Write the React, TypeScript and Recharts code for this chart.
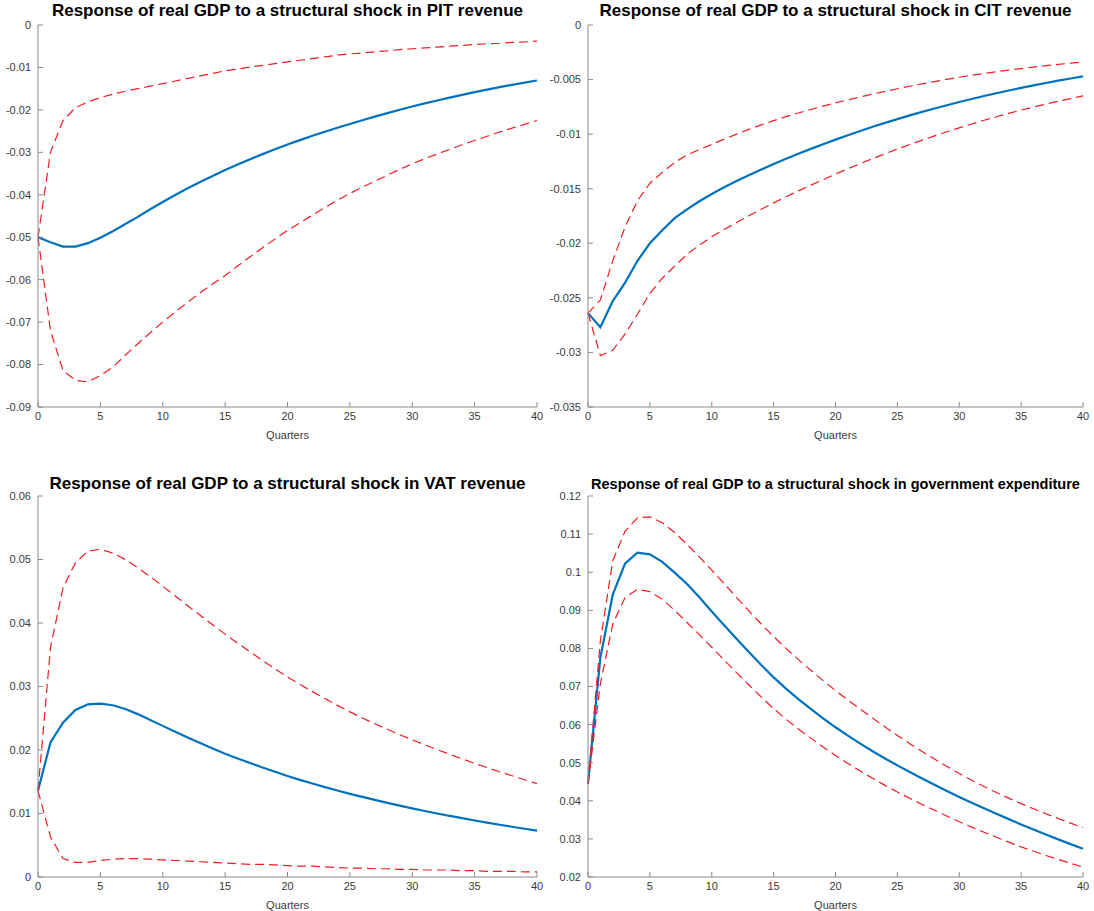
import { LineChart, Line, XAxis, YAxis, Label } from 'recharts';

// impulse responses over 40 quarters, with 68% error bands
const quarters = [
  0, 1, 2, 3, 4, 5, 6, 7, 8, 9, 10, 11, 12, 13, 14, 15, 16, 17, 18, 19, 20,
  21, 22, 23, 24, 25, 26, 27, 28, 29, 30, 31, 32, 33, 34, 35, 36, 37, 38, 39, 40,
];
const xTicks = [0, 5, 10, 15, 20, 25, 30, 35, 40];

const pitIrf = [
  -0.05, -0.0512, -0.0522, -0.0522, -0.0514, -0.0501, -0.0486, -0.0469, -0.0452, -0.0434, -0.0417,
  -0.04005, -0.03848, -0.03698, -0.03555, -0.03418, -0.03287, -0.03162, -0.03042, -0.02927, -0.02817,
  -0.02712, -0.02611, -0.02514, -0.02421, -0.02332, -0.02245, -0.0216, -0.02077, -0.01997, -0.0192,
  -0.01848, -0.01778, -0.0171, -0.01645, -0.01582, -0.01522, -0.01465, -0.0141, -0.01358, -0.01308,
];
const pitUpper = [
  -0.05, -0.03, -0.0225, -0.0195, -0.0181, -0.0171, -0.0163, -0.0156, -0.015, -0.0144, -0.0138,
  -0.0132, -0.0126, -0.012, -0.0114, -0.0108, -0.0104, -0.0099, -0.0095, -0.0091, -0.0087,
  -0.0083, -0.0079, -0.0075, -0.0071, -0.0068, -0.0066, -0.0063, -0.0061, -0.0058, -0.0056,
  -0.0054, -0.0052, -0.005, -0.0048, -0.0046, -0.0044, -0.0043, -0.0041, -0.004, -0.0038,
];
const pitLower = [
  -0.05, -0.072, -0.0814, -0.0837, -0.0841, -0.0826, -0.0806, -0.0778, -0.0751, -0.0725, -0.07,
  -0.0676, -0.0653, -0.0631, -0.061, -0.059, -0.0568, -0.0546, -0.0525, -0.0504, -0.0484,
  -0.0466, -0.0448, -0.043, -0.0413, -0.0397, -0.0382, -0.0368, -0.0354, -0.034, -0.0327,
  -0.0315, -0.0304, -0.0293, -0.0282, -0.0272, -0.0262, -0.0252, -0.0243, -0.0234, -0.0225,
];

const citIrf = [
  -0.0264, -0.0277, -0.0253, -0.0236, -0.0216, -0.02, -0.0188, -0.0177, -0.0169, -0.01615, -0.01548,
  -0.01487, -0.0143, -0.01376, -0.01324, -0.01274, -0.01226, -0.0118, -0.01135, -0.01092, -0.0105,
  -0.0101, -0.00971, -0.00933, -0.00897, -0.00862, -0.00828, -0.00796, -0.00765, -0.00735, -0.00706,
  -0.00678, -0.00651, -0.00625, -0.006, -0.00576, -0.00553, -0.00531, -0.0051, -0.0049, -0.00471,
];
const citUpper = [
  -0.0264, -0.0252, -0.0216, -0.0185, -0.0161, -0.0145, -0.0135, -0.0126, -0.0119, -0.01142, -0.01095,
  -0.01046, -0.01, -0.00956, -0.00915, -0.00876, -0.0084, -0.00806, -0.00774, -0.00743, -0.00714,
  -0.00686, -0.00659, -0.00633, -0.00608, -0.00584, -0.00561, -0.00539, -0.00518, -0.00498, -0.00479,
  -0.00461, -0.00444, -0.00428, -0.00413, -0.00399, -0.00386, -0.00373, -0.00361, -0.0035, -0.00339,
];
const citLower = [
  -0.0264, -0.0303, -0.0298, -0.0283, -0.0265, -0.0246, -0.0232, -0.0221, -0.021, -0.02017, -0.0194,
  -0.01874, -0.0181, -0.01748, -0.01688, -0.0163, -0.01574, -0.0152, -0.01468, -0.01418, -0.01365,
  -0.01317, -0.0127, -0.01224, -0.0118, -0.01137, -0.01095, -0.01055, -0.01016, -0.00978, -0.00942,
  -0.00907, -0.00873, -0.00841, -0.0081, -0.0078, -0.00752, -0.00725, -0.00699, -0.00674, -0.0065,
];

const vatIrf = [
  0.0136, 0.0212, 0.0243, 0.0263, 0.0272, 0.0273, 0.02705, 0.02645, 0.02565, 0.02474, 0.0238,
  0.02288, 0.02198, 0.0211, 0.02024, 0.0194, 0.01866, 0.01795, 0.01725, 0.01657, 0.0159,
  0.0153, 0.01472, 0.01416, 0.01362, 0.0131, 0.01261, 0.01214, 0.01168, 0.01123, 0.0108,
  0.01039, 0.01, 0.00962, 0.00926, 0.0089, 0.00856, 0.00823, 0.00791, 0.0076, 0.0073,
];
const vatUpper = [
  0.0136, 0.0361, 0.0455, 0.0495, 0.0513, 0.0516, 0.051, 0.05, 0.0487, 0.0473, 0.0458,
  0.04425, 0.04272, 0.04121, 0.03972, 0.03825, 0.03683, 0.03545, 0.0341, 0.03278, 0.0315,
  0.03032, 0.02919, 0.0281, 0.02703, 0.026, 0.02504, 0.02413, 0.02326, 0.02241, 0.0216,
  0.02081, 0.02005, 0.01932, 0.0186, 0.0179, 0.01723, 0.01658, 0.01594, 0.01531, 0.0147,
];
const vatLower = [
  0.0136, 0.0063, 0.0029, 0.0023, 0.0023, 0.0026, 0.0028, 0.0029, 0.0029, 0.0028, 0.0027,
  0.0026, 0.0025, 0.0024, 0.0023, 0.0022, 0.0021, 0.002, 0.002, 0.0019, 0.0018,
  0.0017, 0.0017, 0.0016, 0.0015, 0.0014, 0.0014, 0.0013, 0.0013, 0.0012, 0.0012,
  0.0011, 0.0011, 0.0011, 0.001, 0.001, 0.0009, 0.0009, 0.0009, 0.0008, 0.0008,
];

const govIrf = [
  0.0445, 0.0776, 0.0941, 0.1023, 0.1051, 0.1047, 0.1027, 0.0999, 0.0969, 0.0934, 0.0897,
  0.0861, 0.08255, 0.07905, 0.07565, 0.0724, 0.06945, 0.0667, 0.0641, 0.06165, 0.0593,
  0.0571, 0.055, 0.053, 0.0511, 0.0493, 0.04755, 0.04585, 0.0442, 0.0426, 0.041,
  0.0395, 0.03804, 0.0366, 0.03519, 0.0338, 0.03246, 0.03116, 0.02988, 0.02863, 0.0274,
];
const govUpper = [
  0.0445, 0.082, 0.103, 0.1108, 0.1143, 0.1145, 0.113, 0.1104, 0.1073, 0.104, 0.10055,
  0.097, 0.0934, 0.08985, 0.0864, 0.0831, 0.08, 0.07705, 0.07425, 0.07155, 0.06895,
  0.06645, 0.06405, 0.0617, 0.0594, 0.05715, 0.055, 0.05295, 0.05095, 0.049, 0.04715,
  0.0454, 0.04375, 0.0422, 0.0407, 0.03925, 0.0379, 0.0366, 0.03535, 0.03413, 0.03295,
];
const govLower = [
  0.0445, 0.0707, 0.0864, 0.0934, 0.0955, 0.0949, 0.0929, 0.09, 0.0868, 0.0836, 0.0803,
  0.07695, 0.07365, 0.0704, 0.06725, 0.0642, 0.0614, 0.05885, 0.05645, 0.05415, 0.0519,
  0.0498, 0.0478, 0.0459, 0.04405, 0.0423, 0.04065, 0.03905, 0.0375, 0.036, 0.0345,
  0.0331, 0.03175, 0.03045, 0.02915, 0.0279, 0.02675, 0.02565, 0.0246, 0.02358, 0.0226,
];

const pitTicks = [-0.09, -0.08, -0.07, -0.06, -0.05, -0.04, -0.03, -0.02, -0.01, 0];
const citTicks = [-0.035, -0.03, -0.025, -0.02, -0.015, -0.01, -0.005, 0];
const vatTicks = [0, 0.01, 0.02, 0.03, 0.04, 0.05, 0.06];
const govTicks = [0.02, 0.03, 0.04, 0.05, 0.06, 0.07, 0.08, 0.09, 0.1, 0.11, 0.12];

const AXIS = '#8a8a8a';
const TEXT = '#3a3a3a';
const BLUE = '#0072bd';
const RED = '#f01c24';

interface PanelProps {
  title: string;
  titleSize: number;
  titleShift: number;
  irf: number[];
  upper: number[];
  lower: number[];
  yTicks: number[];
  left: number;
  top: number;
  width: number;
  plotHeight: number;
  axisWidth: number;
}

function IrfPanel({
  title, titleSize, titleShift, irf, upper, lower, yTicks, left, top, width, plotHeight, axisWidth,
}: PanelProps) {
  const data = quarters.map((q, i) => ({ q, irf: irf[i], hi: upper[i], lo: lower[i] }));
  const marginTop = 24;
  const plotLeft = left + axisWidth;
  const plotRight = left + width - 8;
  const center = (plotLeft + plotRight) / 2;

  return (
    <>
      <div
        style={{
          position: 'absolute',
          left: center - 300,
          width: 600,
          top: top + titleShift + (17 - titleSize) * 0.5,
          textAlign: 'center',
          fontWeight: 'bold',
          fontSize: titleSize,
          lineHeight: `${titleSize + 2}px`,
          color: '#000',
          whiteSpace: 'nowrap',
        }}
      >
        {title}
      </div>
      <div style={{ position: 'absolute', left, top }}>
        <LineChart
          width={width}
          height={marginTop + plotHeight + 38}
          data={data}
          margin={{ top: marginTop, right: 8, bottom: 0, left: 0 }}
        >
          <XAxis
            type="number"
            dataKey="q"
            domain={[0, 40]}
            ticks={xTicks}
            height={38}
            tickSize={-5}
            tickMargin={10}
            stroke={AXIS}
            tick={{ fill: TEXT, fontSize: 11 }}
          >
            <Label value="Quarters" position="insideBottom" offset={6} fill={TEXT} fontSize={11} />
          </XAxis>
          <YAxis
            type="number"
            domain={[yTicks[0], yTicks[yTicks.length - 1]]}
            ticks={yTicks}
            allowDataOverflow
            width={axisWidth}
            tickSize={-5}
            tickMargin={12}
            stroke={AXIS}
            tick={{ fill: TEXT, fontSize: 11 }}
            interval={0}
          />
          <Line type="linear" dataKey="irf" stroke={BLUE} strokeWidth={2.2} dot={false} isAnimationActive={false} />
          <Line
            type="linear"
            dataKey="hi"
            stroke={RED}
            strokeWidth={1.2}
            strokeDasharray="9 5"
            dot={false}
            isAnimationActive={false}
          />
          <Line
            type="linear"
            dataKey="lo"
            stroke={RED}
            strokeWidth={1.2}
            strokeDasharray="9 5"
            dot={false}
            isAnimationActive={false}
          />
        </LineChart>
      </div>
    </>
  );
}

export default function App() {
  return (
    <div
      style={{
        position: 'absolute',
        left: 0,
        top: 0,
        width: 1094,
        height: 911,
        background: '#fff',
        fontFamily: '"Liberation Sans", Arial, Helvetica, sans-serif',
      }}
    >
      <IrfPanel
        title="Response of real GDP to a structural shock in PIT revenue"
        titleSize={17}
        titleShift={0}
        irf={pitIrf}
        upper={pitUpper}
        lower={pitLower}
        yTicks={pitTicks}
        left={0}
        top={1}
        width={545}
        plotHeight={382}
        axisWidth={38}
      />
      <IrfPanel
        title="Response of real GDP to a structural shock in CIT revenue"
        titleSize={17}
        titleShift={0}
        irf={citIrf}
        upper={citUpper}
        lower={citLower}
        yTicks={citTicks}
        left={540}
        top={1}
        width={551}
        plotHeight={382}
        axisWidth={48}
      />
      <IrfPanel
        title="Response of real GDP to a structural shock in VAT revenue"
        titleSize={17}
        titleShift={2}
        irf={vatIrf}
        upper={vatUpper}
        lower={vatLower}
        yTicks={vatTicks}
        left={0}
        top={472}
        width={545}
        plotHeight={381}
        axisWidth={38}
      />
      <IrfPanel
        title="Response of real GDP to a structural shock in government expenditure"
        titleSize={14.5}
        titleShift={3}
        irf={govIrf}
        upper={govUpper}
        lower={govLower}
        yTicks={govTicks}
        left={540}
        top={472}
        width={551}
        plotHeight={381}
        axisWidth={48}
      />
    </div>
  );
}
